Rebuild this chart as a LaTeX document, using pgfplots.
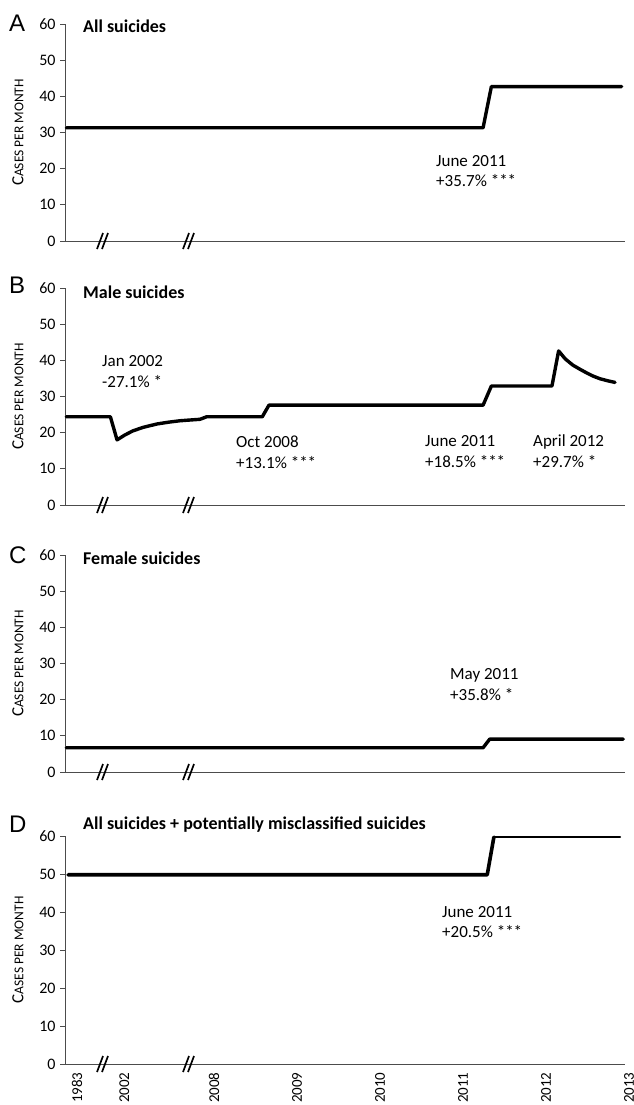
\documentclass[border=0pt]{standalone}
\usepackage{fontspec}
\setmainfont{Carlito}
\newfontfamily\panelfont{Liberation Sans}
\usepackage{pgfplots}
\pgfplotsset{compat=1.18}

% y label in faked small caps
\newcommand\ylab{{\fontsize{17}{17}\selectfont C}{\fontsize{13.5}{13.5}\selectfont ASES PER MONTH}}

\pgfplotsset{
  panel/.style={
    scale only axis,
    width=560pt,
    anchor=south west,
    xmin=2006.253, xmax=2013,
    ymin=0, ymax=60,
    ytick={0,10,...,60},
    xtick=\empty,
    axis x line*=bottom,
    axis y line*=left,
    axis line style={black!70, line width=0.9pt},
    ytick style={black!70, line width=0.9pt},
    xtick style={draw=none},
    tick align=outside,
    major tick length=5pt,
    tick label style={font=\fontsize{16}{16}\selectfont},
    yticklabel style={xshift=-1pt},
    /pgf/number format/assume math mode=true,
    ylabel={\ylab},
    every axis y label/.style={at={(axis description cs:0,0.5)}, xshift=-47pt, rotate=90, anchor=center},
    clip=false,
  },
  trend/.style={black, line width=3.4pt, line join=round, line cap=round, mark=none},
}

\newcommand\brk[1]{%
  \draw[black, line width=1.7pt] (97pt,-#1pt-8pt) -- (103pt,-#1pt+8pt);
  \draw[black, line width=1.7pt] (102pt,-#1pt-8pt) -- (108pt,-#1pt+8pt);
  \draw[black, line width=1.7pt] (183pt,-#1pt-8pt) -- (189pt,-#1pt+8pt);
  \draw[black, line width=1.7pt] (188pt,-#1pt-8pt) -- (194pt,-#1pt+8pt);
}

\begin{document}
\begin{tikzpicture}
\path[use as bounding box] (0,0) rectangle (633pt,-1105pt);

% ---------- A: all suicides ----------
\begin{axis}[panel, at={(65pt,-241pt)}, height=217pt]
\addplot[trend] coordinates {
 (2006.27,31.3) (2011.29,31.3) (2011.39,42.7) (2012.96,42.7)
};
\end{axis}

% ---------- B: male suicides ----------
\begin{axis}[panel, at={(65pt,-505pt)}, height=217pt]
\addplot[trend] coordinates {
 (2006.27,24.4) (2006.80,24.4) (2006.88,18.0) (2006.97,19.3)
 (2007.07,20.5) (2007.20,21.5) (2007.36,22.4) (2007.50,22.9)
 (2007.64,23.3) (2007.88,23.7) (2007.96,24.4) (2008.63,24.4)
 (2008.71,27.6) (2011.29,27.6) (2011.39,32.9) (2012.12,32.9)
 (2012.20,42.6) (2012.28,40.4) (2012.37,38.7) (2012.46,37.5)
 (2012.54,36.5) (2012.62,35.6) (2012.70,34.9) (2012.80,34.3)
 (2012.88,33.9)
};
\end{axis}

% ---------- C: female suicides ----------
\begin{axis}[panel, at={(65pt,-772pt)}, height=217pt]
\addplot[trend] coordinates {
 (2006.27,6.7) (2011.29,6.7) (2011.37,9.1) (2012.98,9.1)
};
\end{axis}

% ---------- D: all + potentially misclassified ----------
\begin{axis}[panel, at={(65pt,-1064pt)}, height=228pt,
  xtick={2006.35,2006.92,2008,2009,2010,2011,2012,2013},
  xticklabels={1983,2002,2008,2009,2010,2011,2012,2013},
  xticklabel style={rotate=90, anchor=east, font=\fontsize{15}{15}\selectfont, yshift=-4pt},
]
\addplot[trend, line width=3.6pt] coordinates {
 (2006.29,49.8) (2011.34,49.8) (2011.42,59.7)
};
\addplot[trend, line width=2.3pt] coordinates {
 (2011.42,59.7) (2012.94,59.7)
};
\end{axis}

% axis break marks
\brk{241}
\brk{505}
\brk{772}
\brk{1064}

% panel letters
\begin{scope}[every node/.style={anchor=base west, inner sep=0pt, font=\panelfont\fontsize{24}{24}\selectfont}]
\node at (9pt,-32pt) {A};
\node at (9pt,-293pt) {B};
\node at (9pt,-563pt) {C};
\node at (9pt,-832pt) {D};
\end{scope}

% panel titles
\begin{scope}[every node/.style={anchor=base west, inner sep=0pt, font=\bfseries\fontsize{18}{18}\selectfont}]
\node at (83pt,-33pt) {All suicides};
\node at (83pt,-298pt) {Male suicides};
\node at (83pt,-564pt) {Female suicides};
\node at (83pt,-829pt) {All suicides + potentially misclassified suicides};
\end{scope}

% change-point annotations
\begin{scope}[every node/.style={anchor=base west, inner sep=0pt, font=\fontsize{17}{17}\selectfont}]
\node at (436pt,-166pt) {June 2011};
\node at (436pt,-186pt) {+35.7\% ***};
\node at (102pt,-366pt) {Jan 2002};
\node at (102pt,-387pt) {-27.1\% *};
\node at (236pt,-447pt) {Oct 2008};
\node at (236pt,-468pt) {+13.1\% ***};
\node at (425pt,-446pt) {June 2011};
\node at (425pt,-467pt) {+18.5\% ***};
\node at (533pt,-446pt) {April 2012};
\node at (533pt,-467pt) {+29.7\% *};
\node at (450pt,-679pt) {May 2011};
\node at (450pt,-700pt) {+35.8\% *};
\node at (442pt,-917pt) {June 2011};
\node at (442pt,-937pt) {+20.5\% ***};
\end{scope}
\end{tikzpicture}
\end{document}
